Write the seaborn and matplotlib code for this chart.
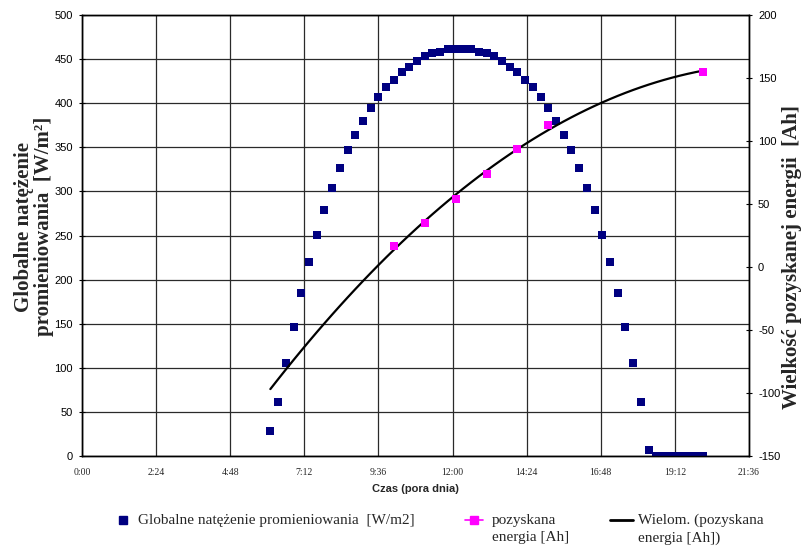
import numpy as np
import matplotlib
matplotlib.use("Agg")
import matplotlib.pyplot as plt
from matplotlib.lines import Line2D
import seaborn as sns

# pomiary co 15 min (czas zegarowy)
czas = ["6:06", "6:21", "6:36", "6:51", "7:06", "7:21", "7:36", "7:51",
        "8:06", "8:21", "8:36", "8:51", "9:06", "9:21", "9:36", "9:51",
        "10:06", "10:21", "10:36", "10:51", "11:06", "11:21", "11:36", "11:51",
        "12:06", "12:21", "12:36", "12:51", "13:06", "13:21", "13:36", "13:51",
        "14:06", "14:21", "14:36", "14:51", "15:06", "15:21", "15:36", "15:51",
        "16:06", "16:21", "16:36", "16:51", "17:06", "17:21", "17:36", "17:51",
        "18:06", "18:21", "18:36", "18:51", "19:06", "19:21", "19:36", "19:51",
        "20:06"]
natezenie = [28, 61, 105, 146, 185, 220, 251, 279, 304, 327,
             347, 364, 380, 395, 407, 418, 426, 435, 441, 448,
             453, 457, 458, 461, 461, 461, 461, 458, 457, 453,
             448, 441, 435, 426, 418, 407, 395, 380, 364, 347,
             327, 304, 279, 251, 220, 185, 146, 105, 61, 7,
             0, 0, 0, 0, 0, 0, 0]

czas_energia = ["10:06", "11:06", "12:06", "13:06", "14:06", "15:06", "20:06"]
energia = [17, 35, 54, 74, 94, 113, 155]

xtick_labels = ["0:00", "2:24", "4:48", "7:12", "9:36", "12:00",
                "14:24", "16:48", "19:12", "21:36"]


def to_hours(s):
    h, m = s.split(":")
    return int(h) + int(m) / 60.0


t = np.array([to_hours(s) for s in czas])
te = np.array([to_hours(s) for s in czas_energia])
xt = [to_hours(s) for s in xtick_labels]

# trend wielomianowy (2 stopnia) jak w Excelu
wsp = np.polyfit(te, energia, 2)
trend = np.polyval(wsp, t)

sns.set_style("white")
plt.rcParams["font.family"] = ["Liberation Sans", "DejaVu Sans"]
plt.rcParams["axes.unicode_minus"] = False

fig = plt.figure(figsize=(8.04, 5.51), dpi=100)
fig.subplots_adjust(left=82 / 804, right=749 / 804, top=1 - 15 / 551, bottom=1 - 456 / 551)
ax = fig.add_subplot(111)
ax2 = ax.twinx()

navy = "#000080"
magenta = "#FF00FF"

sns.scatterplot(x=t, y=natezenie, ax=ax, marker="s", s=40, color=navy,
                linewidth=0, legend=False, zorder=3)
sns.lineplot(x=t, y=trend, ax=ax2, color="black", lw=1.6, legend=False)
sns.scatterplot(x=te, y=energia, ax=ax2, marker="s", s=40, color=magenta,
                linewidth=0, legend=False, zorder=4)

ax.set_xlim(0, 21.6)
ax.set_ylim(0, 500)
ax.set_yticks(np.arange(0, 501, 50))
ax.set_xticks(xt)
ax.set_xticklabels(xtick_labels, family="Liberation Serif", fontsize=7)
ax2.set_ylim(-150, 200)
ax2.set_yticks(np.arange(-150, 201, 50))

ax.grid(True, color="#2a2a2a", lw=0.9)
ax2.grid(False)
for a in (ax, ax2):
    for sp in a.spines.values():
        sp.set_color("black")
        sp.set_linewidth(1.0)
    a.tick_params(axis="y", direction="inout", length=5, width=0.8,
                  labelsize=8, pad=4, colors="black")
ax.tick_params(axis="x", direction="inout", length=5, width=0.8, pad=6)
ax.tick_params(axis="y", left=True)
ax2.tick_params(axis="y", right=True)

ax.set_xlabel("Czas (pora dnia)", fontsize=8, fontweight="bold", va="center")
ax.xaxis.set_label_coords(0.5, -0.075)
ax.set_ylabel("Globalne natężenie\npromieniowania  [W/m²]", family="Liberation Serif",
              fontsize=15, fontweight="bold", va="center", linespacing=0.95)
ax.yaxis.set_label_coords(-0.072, 0.52)
ax2.set_ylabel("Wielkość pozyskanej energii  [Ah]", family="Liberation Serif",
               fontsize=15, fontweight="bold", va="center", rotation=90)
ax2.yaxis.set_label_coords(1.065, 0.45)

lf = {"family": "Liberation Serif", "size": 11}
h1 = Line2D([], [], ls="none", marker="s", color=navy, markersize=5.5)
h2 = Line2D([], [], color=magenta, marker="s", markersize=6, lw=1.2)
h3 = Line2D([], [], color="black", lw=2)
top = 1 - 514 / 551
legs = [
    fig.legend([h1], ["Globalne natężenie promieniowania  [W/m2]"], loc="upper left",
               bbox_to_anchor=(117 / 804, top), frameon=False, prop=lf,
               borderpad=0, borderaxespad=0, handlelength=0.8, handletextpad=0.6,
               handleheight=1.2),
    fig.legend([h2], ["pozyskana\nenergia [Ah]"], loc="upper left",
               bbox_to_anchor=(465 / 804, top), frameon=False, prop=lf,
               borderpad=0, borderaxespad=0, handlelength=1.18, handletextpad=0.58,
               handleheight=1.2),
    fig.legend([h3], ["Wielom. (pozyskana\nenergia [Ah])"], loc="upper left",
               bbox_to_anchor=(610 / 804, top), frameon=False, prop=lf,
               borderpad=0, borderaxespad=0, handlelength=1.5, handletextpad=0.33,
               handleheight=1.2),
]
# znacznik w legendzie przy pierwszej linii tekstu
for leg in legs:
    for txt in leg.get_texts():
        txt.set_linespacing(1.4)
    for col in leg._legend_handle_box.get_children():
        for item in col.get_children():
            item.align = "top"

fig.savefig("out.png", dpi=100)
